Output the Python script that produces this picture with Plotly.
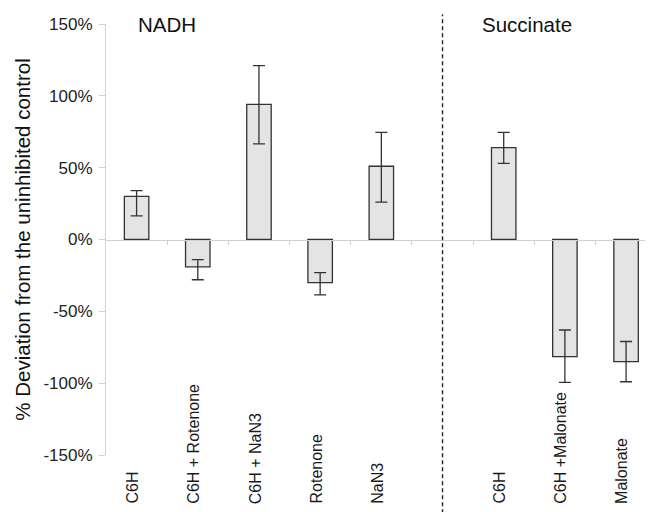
import plotly.graph_objects as go

categories = ["C6H", "C6H + Rotenone", "C6H + NaN3", "Rotenone", "NaN3", "",
              "C6H", "C6H +Malonate", "Malonate"]
values = [0.30, -0.19, 0.94, -0.30, 0.51, None, 0.64, -0.815, -0.85]
err_plus = [0.04, 0.05, 0.27, 0.07, 0.235, None, 0.105, 0.185, 0.14]
err_minus = [0.135, 0.09, 0.275, 0.085, 0.25, None, 0.11, 0.18, 0.14]
group_labels = ["NADH", "Succinate"]
y_ticks = [-1.5, -1.0, -0.5, 0.0, 0.5, 1.0, 1.5]
y_tick_text = ["-150%", "-100%", "-50%", "0%", "50%", "100%", "150%"]

xs = list(range(len(categories)))
FONT = "Liberation Sans, Arial, sans-serif"

fig = go.Figure()
fig.add_trace(go.Bar(
    x=xs, y=values, width=0.4,
    marker=dict(color="#e4e4e4", line=dict(color="#333333", width=1.3)),
    error_y=dict(type="data", symmetric=False, array=err_plus, arrayminus=err_minus,
                 color="#333333", thickness=1.3, width=6),
    showlegend=False,
))

# category labels, bottom-aligned and rotated
for i, c in enumerate(categories):
    if c:
        fig.add_annotation(x=i, xref="x", y=-0.118, yref="paper", text=c,
                           textangle=-90, showarrow=False, yanchor="bottom",
                           xanchor="center", xshift=-4,
                           font=dict(family=FONT, size=16, color="#1a1a1a"))

# group titles
fig.add_annotation(x=0.5, xref="x", y=1.0, yref="paper", text=group_labels[0],
                   showarrow=False, yanchor="middle", xanchor="center",
                   font=dict(family=FONT, size=20.5, color="#111111"))
fig.add_annotation(x=6.38, xref="x", y=1.0, yref="paper", text=group_labels[1],
                   showarrow=False, yanchor="middle", xanchor="center",
                   font=dict(family=FONT, size=20.5, color="#111111"))

# dashed separator
fig.add_shape(type="line", xref="x", yref="paper", x0=5, x1=5, y0=-0.135, y1=1.022,
              line=dict(color="#222222", width=1.4, dash="4px,3px"))

fig.update_layout(
    width=653, height=512,
    margin=dict(l=98, r=8, t=16, b=65),
    paper_bgcolor="white", plot_bgcolor="white",
    xaxis=dict(range=[-0.5, 8.44], anchor="free", position=0.5,
               showline=True, linecolor="#d0d0d0", linewidth=1,
               tickvals=[i + 0.5 for i in range(8)], ticks="outside", ticklen=4,
               tickcolor="#d0d0d0", showticklabels=False, showgrid=False,
               zeroline=False, automargin=False),
    yaxis=dict(range=[-1.5, 1.5], tickvals=y_ticks, ticktext=y_tick_text,
               showline=True, linecolor="#d0d0d0", linewidth=1,
               ticks="outside", ticklen=6, tickcolor="#d0d0d0",
               ticklabelstandoff=3,
               showgrid=False, zeroline=False, automargin=False,
               tickfont=dict(family=FONT, size=17, color="#222222"),
               title=dict(text="% Deviation from the uninhibited control",
                          font=dict(family=FONT, size=20.5, color="#111111"),
                          standoff=7)),
)

fig.write_html("out.html")
